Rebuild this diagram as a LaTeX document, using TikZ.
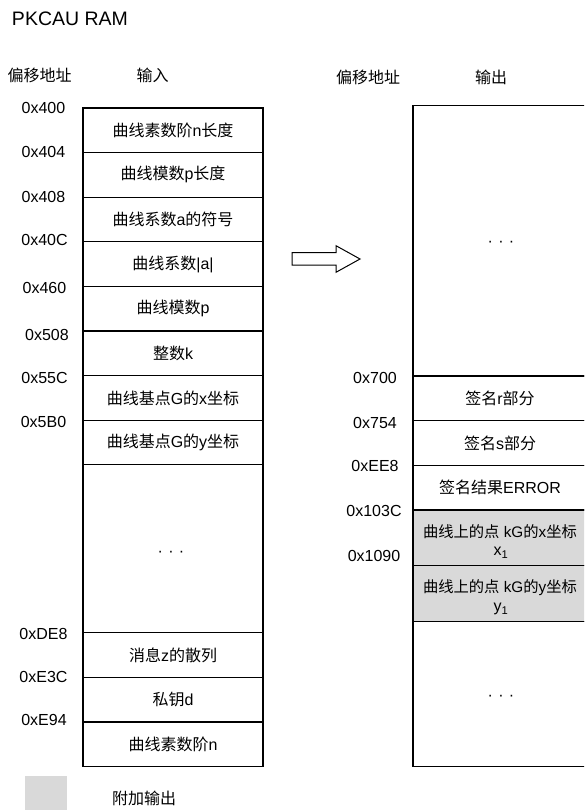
\documentclass[tikz,border=0pt]{standalone}
\usepackage{fontspec}
\setmainfont{Liberation Sans}
\newfontfamily\cjk{Noto Sans CJK SC}
\newcommand\zhs[1]{{\cjk #1}}
\definecolor{addgray}{HTML}{D9D9D9}
\tikzset{
  txt/.style={inner sep=0pt, outer sep=0pt, font=\fontsize{16}{19}\selectfont},
  cell/.style={draw, line width=1.2pt, minimum width=180pt, inner sep=0pt, outer sep=0pt, font=\fontsize{16}{19}\selectfont},
  rcell/.style={cell, minimum width=174pt},
  gcell/.style={rcell, fill=addgray},
  addr/.style={txt},
  outline/.style={draw, line width=1pt, line join=miter}
}
\begin{document}
\begin{tikzpicture}[x=1pt,y=-1pt]
\useasboundingbox (0,0) rectangle (584,810);
\clip (0,0) rectangle (584,810);
% title and headers
\node[txt, font=\fontsize{19.5}{23}\selectfont, anchor=west] (title) at (12,19) {PKCAU RAM};
\node[txt] (hl1) at (39.5,75) {\zhs{偏移地址}};
\node[txt] (hl2) at (152.5,75) {\zhs{输入}};
\node[txt] (hr1) at (368,77) {\zhs{偏移地址}};
\node[txt] (hr2) at (491,77) {\zhs{输出}};
% left memory
\node[cell, minimum height=44.6pt] (l1) at (173,130.3) {\zhs{曲线素数阶}n\zhs{长度}};
\node[cell, minimum height=44.6pt] (l2) at (173,174.9) {\zhs{曲线模数}p\zhs{长度}};
\node[cell, minimum height=44.6pt] (l3) at (173,219.5) {\zhs{曲线系数}a\zhs{的符号}};
\node[cell, minimum height=44.6pt] (l4) at (173,264.1) {\zhs{曲线系数}|a|};
\node[cell, minimum height=44.6pt] (l5) at (173,308.7) {\zhs{曲线模数}p};
\node[cell, minimum height=44.6pt] (l6) at (173,353.3) {\zhs{整数}k};
\node[cell, minimum height=44.6pt] (l7) at (173,397.9) {\zhs{曲线基点}G\zhs{的}x\zhs{坐标}};
\node[cell, minimum height=44.6pt] (l8) at (173,442.5) {\zhs{曲线基点}G\zhs{的}y\zhs{坐标}};
\node[cell, minimum height=167.9pt] (l9) at (173,548.75) {};
\node[txt] (l9d) at (171,554) {·\,\,·\,\,·};
\node[cell, minimum height=44.6pt] (l10) at (173,655) {\zhs{消息}z\zhs{的散列}};
\node[cell, minimum height=44.6pt] (l11) at (173,699.6) {\zhs{私钥}d};
\node[cell, minimum height=44.6pt] (l12) at (173,744.2) {\zhs{曲线素数阶}n};
% left addresses
\node[addr] (a1) at (43.5,108) {0x400};
\node[addr] (a2) at (43.5,152) {0x404};
\node[addr] (a3) at (43.5,197) {0x408};
\node[addr] (a4) at (44.5,240) {0x40C};
\node[addr] (a5) at (44.5,288) {0x460};
\node[addr] (a6) at (47,335) {0x508};
\node[addr] (a7) at (44.5,378) {0x55C};
\node[addr] (a8) at (43.5,422) {0x5B0};
\node[addr] (a9) at (43.5,634) {0xDE8};
\node[addr] (a10) at (43.5,677) {0xE3C};
\node[addr] (a11) at (44,720) {0xE94};
% arrow
\draw[outline] (292,252.7) -- (336,252.7) -- (336,245.7) -- (360,259) -- (336,272.3) -- (336,265) -- (292,265) -- cycle;
% right memory
\node[rcell, minimum height=270.3pt] (r1) at (500,240.85) {};
\node[txt] (r1d) at (501,244) {·\,\,·\,\,·};
\node[rcell, minimum height=44.7pt] (r2) at (500,398.35) {\zhs{签名}r\zhs{部分}};
\node[rcell, minimum height=45pt] (r3) at (500,443.2) {\zhs{签名}s\zhs{部分}};
\node[rcell, minimum height=44.3pt] (r4) at (500,487.85) {\zhs{签名结果}ERROR};
\node[gcell, minimum height=55.7pt] (r5) at (500,537.85) {};
\node[txt, font=\fontsize{15.3}{18}\selectfont, anchor=west] (r5a) at (423,531.7) {\zhs{曲线上的点} kG\zhs{的}x\zhs{坐标}};
\node[txt] (r5b) at (501,553) {x\textsubscript{1}};
\node[gcell, minimum height=56pt] (r6) at (500,593.7) {};
\node[txt, font=\fontsize{15.3}{18}\selectfont, anchor=west] (r6a) at (423,588) {\zhs{曲线上的点} kG\zhs{的}y\zhs{坐标}};
\node[txt] (r6b) at (501,609) {y\textsubscript{1}};
\node[rcell, minimum height=145pt] (r7) at (500,694.2) {};
\node[txt] (r7d) at (501,698) {·\,\,·\,\,·};
% right addresses
\node[addr] (b1) at (375,378) {0x700};
\node[addr] (b2) at (375,423) {0x754};
\node[addr] (b3) at (375,466) {0xEE8};
\node[addr] (b4) at (374,511) {0x103C};
\node[addr] (b5) at (374,556) {0x1090};
% legend
\fill[addgray] (25,776) rectangle (67,815);
\node[txt] (leg) at (144,798) {\zhs{附加输出}};
\end{tikzpicture}
\end{document}
